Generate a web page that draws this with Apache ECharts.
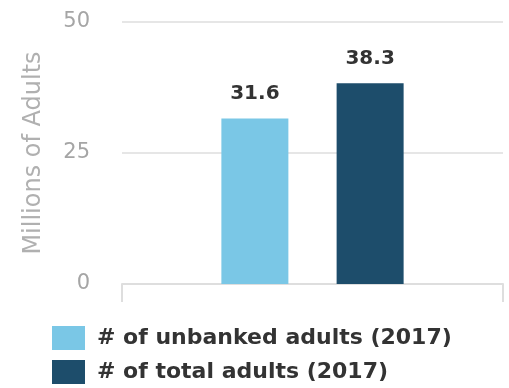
<!DOCTYPE html>
<html><head><meta charset="utf-8">
<script src="https://cdn.jsdelivr.net/npm/echarts@6/dist/echarts.min.js"></script>
<style>html,body{margin:0;padding:0;background:#fff}#c{width:509px;height:388px}</style>
</head><body><div id="c"></div>
<script>
var categories = [''];
var seriesNames = ['# of unbanked adults (2017)', '# of total adults (2017)'];
var unbanked = [31.6];
var total = [38.3];
var yTicks = [0, 25, 50];
var colors = ['#7ac7e6', '#1d4d6b'];

var chart = echarts.init(document.getElementById('c'));
var font = '"DejaVu Sans", sans-serif';
var labelStyle = {show: true, position: 'top', distance: 15, fontFamily: font, fontWeight: 'bold', fontSize: 20, color: '#333'};
chart.setOption({
  backgroundColor: '#fff',
  animation: false,
  grid: {left: 122, right: 6, top: 22, bottom: 104},
  legend: {
    orient: 'vertical', left: 52, top: 326, padding: 0,
    itemWidth: 33, itemHeight: 24, itemGap: 10,
    icon: 'rect',
    textStyle: {fontFamily: font, fontWeight: 'bold', fontSize: 22, color: '#333', padding: [0,0,0,7]},
    data: seriesNames
  },
  xAxis: {
    type: 'category', data: categories,
    axisLine: {lineStyle: {color: '#dedede', width: 2}},
    axisTick: {show: true, length: 18, lineStyle: {color: '#dedede', width: 2}},
    axisLabel: {show: false}
  },
  yAxis: {
    type: 'value', min: yTicks[0], max: yTicks[yTicks.length-1], interval: 25,
    name: 'Millions of Adults', nameLocation: 'middle', nameGap: 76, nameRotate: 90,
    nameTextStyle: {fontFamily: font, fontSize: 24, color: '#b0b0b0'},
    axisLine: {show: false}, axisTick: {show: false},
    axisLabel: {margin: 32, fontFamily: font, fontSize: 21, color: '#a5a5a5'},
    splitLine: {lineStyle: {color: '#e6e6e6', width: 2}}
  },
  series: [
    {name: seriesNames[0], type: 'bar', data: unbanked, barWidth: 67, barGap: '72%',
     itemStyle: {color: colors[0]}, label: labelStyle},
    {name: seriesNames[1], type: 'bar', data: total, barWidth: 67,
     itemStyle: {color: colors[1]}, label: labelStyle}
  ]
});
</script></body></html>
